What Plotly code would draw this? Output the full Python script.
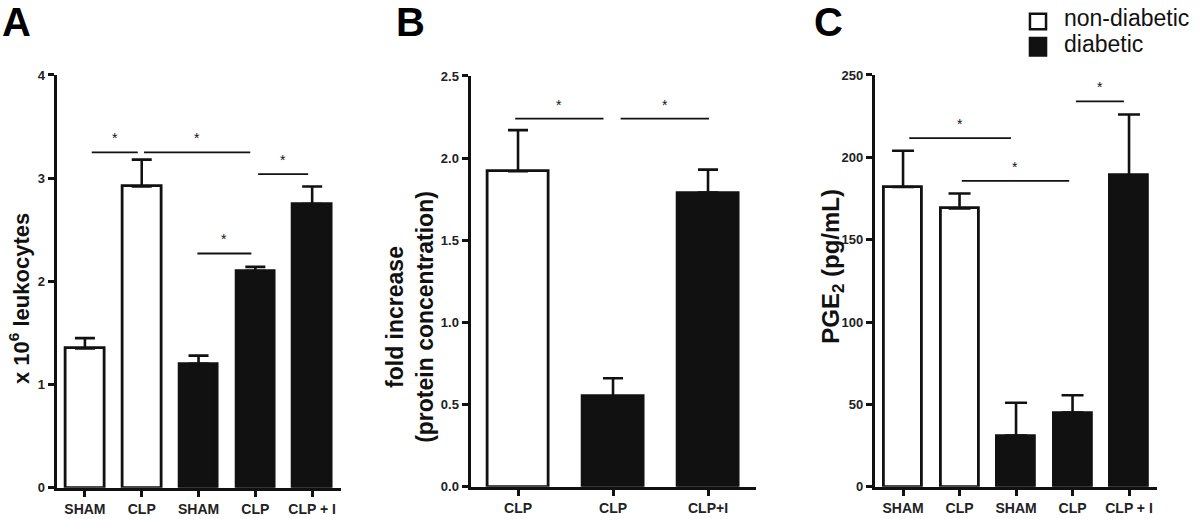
import plotly.graph_objects as go

# Panel A - leukocytes
a_labels = ["SHAM", "CLP", "SHAM", "CLP", "CLP + I"]
a_values = [1.35, 2.92, 1.20, 2.10, 2.75]
a_errors = [0.10, 0.26, 0.08, 0.04, 0.17]
a_groups = [0, 0, 1, 1, 1]
a_sig = [(0.12, 0.93, 3.25), (1.04, 2.91, 3.25), (3.05, 3.93, 3.04), (1.98, 2.93, 2.27)]

# Panel B - protein concentration
b_labels = ["CLP", "CLP", "CLP+I"]
b_values = [1.92, 0.55, 1.79]
b_errors = [0.25, 0.11, 0.14]
b_groups = [0, 1, 1]
b_sig = [(-0.03, 0.90, 2.24), (1.08, 2.01, 2.24)]

# Panel C - PGE2
c_labels = ["SHAM", "CLP", "SHAM", "CLP", "CLP + I"]
c_values = [182, 169, 31, 45, 189]
c_errors = [22, 9, 20, 10.5, 37]
c_groups = [0, 0, 1, 1, 1]
c_sig = [(0.11, 1.91, 211.7), (1.04, 2.94, 185.7), (3.06, 3.91, 234)]

group_names = ["non-diabetic", "diabetic"]
fill = ["white", "#111111"]
INK = "#111111"
FONT = "Liberation Sans, Arial, sans-serif"

fig = go.Figure()

panels = [
    ("x", "y", a_labels, a_values, a_errors, a_groups, a_sig, 0.68, 10),
    ("x2", "y2", b_labels, b_values, b_errors, b_groups, b_sig, 0.65, 10),
    ("x3", "y3", c_labels, c_values, c_errors, c_groups, c_sig, 0.68, 11),
]

shapes = []
annotations = []
for xa, ya, labels, vals, errs, groups, sig, bw, cap in panels:
    xs = list(range(len(vals)))
    fig.add_trace(go.Bar(
        x=xs, y=vals, xaxis=xa, yaxis=ya, width=bw,
        marker=dict(color=[fill[g] for g in groups],
                    line=dict(color=INK, width=2.8)),
        error_y=dict(type="data", array=errs, arrayminus=[0] * len(errs),
                     symmetric=False, color=INK, thickness=2.6, width=cap),
        showlegend=False, hoverinfo="y"))
    for x0, x1, yv in sig:
        shapes.append(dict(type="line", xref=xa, yref=ya, x0=x0, x1=x1, y0=yv, y1=yv,
                           line=dict(color=INK, width=1.8)))
        annotations.append(dict(x=(x0 + x1) / 2, y=yv, xref=xa, yref=ya, text="*",
                                showarrow=False, yanchor="bottom", yshift=4,
                                font=dict(size=14, color=INK, family=FONT)))

# legend drawn by hand
shapes.append(dict(type="rect", xref="paper", yref="paper", x0=0.8583, x1=0.8717,
                   y0=0.9557, y1=0.9865, line=dict(color=INK, width=2.5), fillcolor="white"))
shapes.append(dict(type="rect", xref="paper", yref="paper", x0=0.8583, x1=0.8717,
                   y0=0.9037, y1=0.9383, line=dict(color=INK, width=2.5), fillcolor=INK))
annotations.append(dict(x=0.885, y=0.979, xref="paper", yref="paper", text=group_names[0],
                        showarrow=False, xanchor="left", yanchor="middle",
                        font=dict(size=23, color=INK, family=FONT)))
annotations.append(dict(x=0.885, y=0.926, xref="paper", yref="paper", text=group_names[1],
                        showarrow=False, xanchor="left", yanchor="middle",
                        font=dict(size=23, color=INK, family=FONT)))

# panel letters
for letter, px in [("A", 0.0), ("B", 0.328), ("C", 0.677)]:
    annotations.append(dict(x=px, y=1.0, xref="paper", yref="paper", text=f"<b>{letter}</b>",
                            showarrow=False, xanchor="left", yanchor="top", yshift=9,
                            font=dict(size=40, color="black", family=FONT)))

# axis titles
titles = [
    ("<b>x 10<sup>6</sup> leukocytes</b>", 0.016, 0.421, 22),
    ("<b>fold increase<br>(protein concentration)</b>", 0.342, 0.386, 23),
    ("<b>PGE<sub>2</sub> (pg/mL)</b>", 0.693, 0.486, 24),
]
for txt, x, y, fs in titles:
    annotations.append(dict(x=x, y=y, xref="paper", yref="paper", text=txt, textangle=-90,
                            showarrow=False, xanchor="center", yanchor="middle",
                            font=dict(size=fs, color=INK, family=FONT)))

axis_common = dict(showline=True, linewidth=3, linecolor=INK, showgrid=False, zeroline=False,
                   ticks="outside", ticklen=6, tickwidth=2.5, tickcolor=INK)
xfont = dict(size=14, color="#222", family=FONT, weight="bold")
yfont = dict(size=13, color="#222", family=FONT, weight="bold")

fig.update_layout(
    width=1200, height=519,
    margin=dict(l=0, r=0, t=0, b=0),
    paper_bgcolor="white", plot_bgcolor="white",
    bargap=0,
    xaxis=dict(domain=[0.0471, 0.2838], range=[-0.5, 4.5], anchor="y",
               tickvals=list(range(len(a_labels))), ticktext=a_labels, tickfont=xfont, **axis_common),
    yaxis=dict(domain=[0.0462, 0.8651], range=[0, 4], anchor="x", dtick=1,
               tickfont=yfont, **axis_common),
    xaxis2=dict(domain=[0.3921, 0.6296], range=[-0.5, 2.5], anchor="y2",
                tickvals=list(range(len(b_labels))), ticktext=b_labels, tickfont=xfont, **axis_common),
    yaxis2=dict(domain=[0.0482, 0.8632], range=[0, 2.5], anchor="x2", dtick=0.5,
                tickformat=".1f", tickfont=yfont, **axis_common),
    xaxis3=dict(domain=[0.7290, 0.9644], range=[-0.5, 4.5], anchor="y3",
                tickvals=list(range(len(c_labels))), ticktext=c_labels, tickfont=xfont, **axis_common),
    yaxis3=dict(domain=[0.0482, 0.8651], range=[0, 250], anchor="x3", dtick=50,
                tickfont=yfont, **axis_common),
    shapes=shapes,
    annotations=annotations,
)

# the page's default body margin would push the fixed-size figure out of the window
fig.write_html("out.html", config={"displayModeBar": False},
               post_script="document.body.style.margin='0';document.body.style.overflow='hidden';")
